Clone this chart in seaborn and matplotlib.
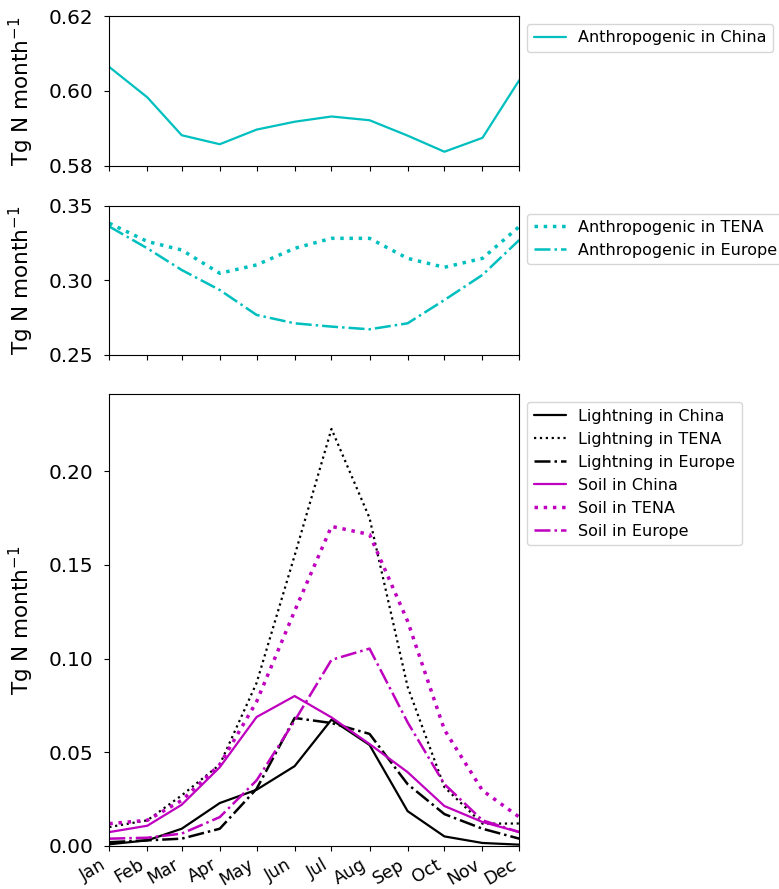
import matplotlib
matplotlib.use("Agg")
import matplotlib.pyplot as plt
import seaborn as sns

sns.set_style("ticks", {"axes.edgecolor": "black", "text.color": "black",
                        "xtick.color": "black", "ytick.color": "black",
                        "axes.labelcolor": "black"})
plt.rcParams['font.family'] = ['DejaVu Sans']

months = ["Jan", "Feb", "Mar", "Apr", "May", "Jun", "Jul", "Aug", "Sep", "Oct", "Nov", "Dec"]
month_start = [0, 31, 59, 90, 120, 151, 181, 212, 243, 273, 304, 334]

anth_china = [0.6064, 0.5983, 0.5882, 0.5858, 0.5897, 0.5918, 0.5932, 0.5922, 0.5881, 0.5838, 0.5875, 0.6029]
anth_tena = [0.3382, 0.326, 0.3203, 0.3047, 0.3103, 0.3214, 0.3281, 0.3281, 0.3147, 0.3087, 0.3147, 0.336]
anth_europe = [0.336, 0.3214, 0.3069, 0.2935, 0.2768, 0.2712, 0.269, 0.2672, 0.2712, 0.2868, 0.3036, 0.327]

light_china = [0.0009, 0.003, 0.0092, 0.0229, 0.030, 0.0426, 0.0674, 0.0539, 0.0186, 0.0051, 0.0016, 0.0007]
light_tena = [0.0101, 0.0137, 0.027, 0.0434, 0.087, 0.155, 0.2225, 0.175, 0.085, 0.0314, 0.0119, 0.012]
light_europe = [0.002, 0.003, 0.0039, 0.0092, 0.0305, 0.0683, 0.0656, 0.0598, 0.033, 0.017, 0.0092, 0.0039]
soil_china = [0.0074, 0.0108, 0.022, 0.042, 0.0688, 0.080, 0.0686, 0.0544, 0.0394, 0.0213, 0.0128, 0.0074]
soil_tena = [0.0119, 0.0137, 0.0243, 0.0434, 0.077, 0.1254, 0.1705, 0.1662, 0.120, 0.062, 0.0296, 0.0154]
soil_europe = [0.0039, 0.0044, 0.0066, 0.0154, 0.035, 0.0668, 0.0993, 0.1053, 0.066, 0.033, 0.0137, 0.0074]

ylab = r"Tg N month$^{-1}$"

fig = plt.figure(figsize=(7.79, 8.89), dpi=100)
ax1 = fig.add_axes([0.1403, 0.8133, 0.5263, 0.1687])
ax2 = fig.add_axes([0.1403, 0.6007, 0.5263, 0.1680])
ax3 = fig.add_axes([0.1403, 0.0484, 0.5263, 0.5081])

# top panel
sns.lineplot(x=month_start, y=anth_china, color="c", lw=1.6, ax=ax1, label="Anthropogenic in China")
ax1.set_ylim(0.58, 0.62)
ax1.set_yticks([0.58, 0.60, 0.62])

# middle panel
sns.lineplot(x=month_start, y=anth_tena, color="c", lw=2.5, ls=":", ax=ax2, label="Anthropogenic in TENA")
sns.lineplot(x=month_start, y=anth_europe, color="c", lw=1.8, ls="-.", ax=ax2, label="Anthropogenic in Europe")
ax2.set_ylim(0.25, 0.35)
ax2.set_yticks([0.25, 0.30, 0.35])

# bottom panel
sns.lineplot(x=month_start, y=light_china, color="k", lw=1.6, ls="-", ax=ax3, label="Lightning in China")
sns.lineplot(x=month_start, y=light_tena, color="k", lw=1.6, ls=":", ax=ax3, label="Lightning in TENA")
sns.lineplot(x=month_start, y=light_europe, color="k", lw=1.8, ls="-.", ax=ax3, label="Lightning in Europe")
sns.lineplot(x=month_start, y=soil_china, color="m", lw=1.6, ls="-", ax=ax3, label="Soil in China")
sns.lineplot(x=month_start, y=soil_tena, color="m", lw=2.5, ls=":", ax=ax3, label="Soil in TENA")
sns.lineplot(x=month_start, y=soil_europe, color="m", lw=1.8, ls="-.", ax=ax3, label="Soil in Europe")
ax3.set_ylim(0, 0.241)
ax3.set_yticks([0.00, 0.05, 0.10, 0.15, 0.20])

for ax in (ax1, ax2, ax3):
    ax.set_xlim(month_start[0], month_start[-1])
    ax.set_xticks(month_start)
    ax.set_ylabel(ylab, fontsize=15.5, labelpad=9)
    ax.tick_params(axis="y", labelsize=14.4, pad=8)
    ax.yaxis.set_major_formatter(matplotlib.ticker.FormatStrFormatter('%.2f'))
    ax.legend(loc="upper left", bbox_to_anchor=(1.0, 1.0), fontsize=11.5)

ax1.set_xticklabels([])
ax2.set_xticklabels([])
ax3.set_xticklabels(months, rotation=30, ha="right", fontsize=12.5)

fig.savefig("out.png", dpi=100)
